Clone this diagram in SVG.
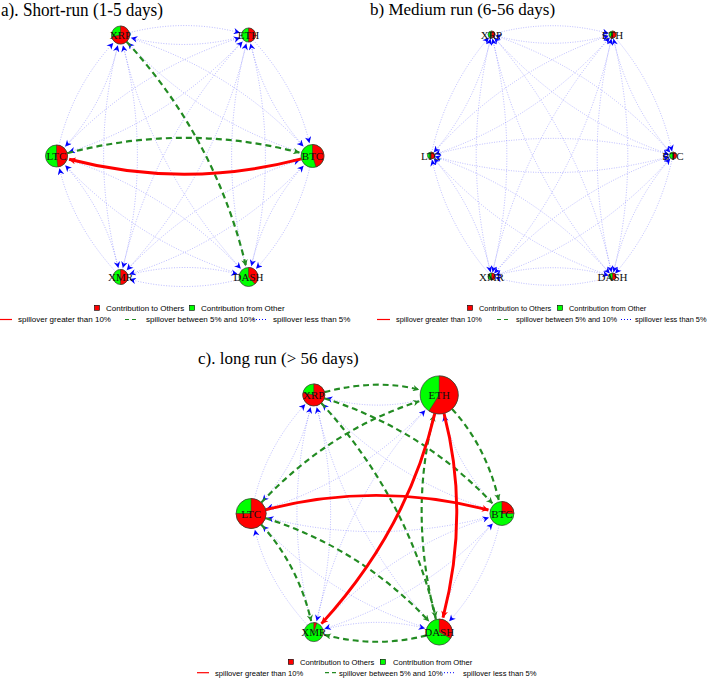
<svg xmlns="http://www.w3.org/2000/svg" width="708" height="679" viewBox="0 0 708 679">
<style>
.eb{fill:none;stroke:#6a6aff;stroke-opacity:.6;stroke-width:.8;stroke-dasharray:1 1.6;marker-end:url(#ab)}
.eg{fill:none;stroke:#228b22;stroke-width:2.2;stroke-dasharray:6 4;marker-end:url(#ag)}
.er{fill:none;stroke:#ff0000;stroke-width:3;marker-end:url(#ar)}
.gr{fill:#00ff00;stroke:#333;stroke-width:.7}
.rd{fill:#ff0000;stroke:#333;stroke-width:.5}
.lb{font-family:"Liberation Serif","Times New Roman",serif;font-size:11px;fill:#111;text-anchor:middle}
.tt{font-family:"Liberation Serif","Times New Roman",serif;fill:#000}
.lg{font-family:"Liberation Sans",Arial,sans-serif;font-size:8px;fill:#000}
.lgb{font-family:"Liberation Sans",Arial,sans-serif;font-size:7.4px;fill:#000}
.lgc{font-family:"Liberation Sans",Arial,sans-serif;font-size:7.6px;fill:#000}
.sq{stroke:#000;stroke-width:.6}
</style>
<defs>
<marker id="ab" viewBox="0 0 10 10" refX="9.5" refY="5" markerWidth="8" markerHeight="6.5" markerUnits="userSpaceOnUse" orient="auto"><path d="M0,0 L10,5 L0,10 L3,5 Z" fill="#0000ff"/></marker>
<marker id="ag" viewBox="0 0 10 10" refX="9.5" refY="5" markerWidth="8" markerHeight="6.5" markerUnits="userSpaceOnUse" orient="auto"><path d="M0,0 L10,5 L0,10 L3,5 Z" fill="#228b22"/></marker>
<marker id="ar" viewBox="0 0 10 10" refX="9.5" refY="5" markerWidth="8.5" markerHeight="7" markerUnits="userSpaceOnUse" orient="auto"><path d="M0,0 L10,5 L0,10 L3,5 Z" fill="#ff0000"/></marker>
</defs>
<rect width="708" height="679" fill="#fff"/>

<!-- Titles -->
<text class="tt" x="1" y="16.3" font-size="18" textLength="162" lengthAdjust="spacingAndGlyphs">a). Short-run (1-5 days)</text>
<text class="tt" x="370" y="15.2" font-size="17">b) Medium run (6-56 days)</text>
<text class="tt" x="198" y="364" font-size="17">c). long run (&gt; 56 days)</text>

<!-- Panel a connectors -->
<g id="connectors-a" transform="translate(184.5,156)">
<path class="eb" d="M-55.29,-123.27 Q0,-137.64 55.29,-123.27"/>
<path class="eb" d="M57.22,-119.24 Q0,-104.36 -53.35,-118.23"/>
<path class="eb" d="M-66.07,-112.24 Q-80.27,-52.18 -119.22,-9.59"/>
<path class="eb" d="M-125.47,-10.70 Q-111.73,-68.82 -71.43,-112.88"/>
<path class="eb" d="M-55.42,-118.27 Q47.73,-85.46 118.75,-9.84"/>
<path class="eb" d="M117.04,-3.48 Q16.27,-35.54 -56.46,-112.98"/>
<path class="eb" d="M-61.73,-112.29 Q-32.54,0 -61.61,111.80"/>
<path class="eb" d="M-65.89,113.74 Q-95.46,0 -66.77,-110.35"/>
<path class="eb" d="M57.59,113.99 Q-31.46,16.64 -61.47,-110.30"/>
<path class="eb" d="M59.20,-115.90 Q-16.27,-35.54 -115.61,-3.94"/>
<path class="eb" d="M-120.46,-8.02 Q-47.73,-85.46 55.42,-118.27"/>
<path class="eb" d="M68.73,-115.83 Q111.73,-68.82 124.89,-13.14"/>
<path class="eb" d="M120.24,-8.49 Q80.27,-52.18 66.07,-112.24"/>
<path class="eb" d="M62.39,-114.19 Q31.46,16.64 -57.59,113.99"/>
<path class="eb" d="M-62.27,113.70 Q-31.46,-16.64 57.92,-114.36"/>
<path class="eb" d="M65.76,-114.22 Q95.46,0 66.90,109.87"/>
<path class="eb" d="M61.61,111.80 Q32.54,0 61.73,-112.29"/>
<path class="eb" d="M-120.57,8.12 Q-80.27,52.18 -66.19,111.76"/>
<path class="eb" d="M-69.06,115.46 Q-111.73,68.82 -125.01,12.65"/>
<path class="eb" d="M-117.52,3.33 Q-16.27,35.54 56.12,112.62"/>
<path class="eb" d="M54.95,118.12 Q-47.73,85.46 -119.09,9.48"/>
<path class="eb" d="M120.12,8.38 Q47.73,85.46 -54.95,118.12"/>
<path class="eb" d="M-58.86,115.53 Q16.27,35.54 115.13,4.09"/>
<path class="eb" d="M125.35,11.19 Q111.73,68.82 71.76,112.51"/>
<path class="eb" d="M66.19,111.76 Q80.27,52.18 118.89,9.96"/>
<path class="eb" d="M-56.74,119.11 Q0,104.36 52.87,118.10"/>
<path class="eb" d="M54.80,123.39 Q0,137.64 -54.80,123.39"/>
<path class="eg" d="M-57.92,-114.36 Q31.46,-16.64 61.35,109.81"/>
<path class="eg" d="M-117.35,-2.77 Q0,-33.28 114.93,-3.40"/>
<path class="er" d="M116.87,2.90 Q0,33.28 -115.42,3.28"/>
</g>

<!-- Panel b connectors -->
<g id="connectors-b" transform="translate(552,155.5) scale(0.945,1)">
<path class="eb" d="M-61.10,-121.76 Q0,-137.64 59.64,-122.13"/>
<path class="eb" d="M61.10,-120.24 Q0,-104.36 -59.64,-119.87"/>
<path class="eb" d="M-64.69,-118.08 Q-80.27,-52.18 -124.96,-3.32"/>
<path class="eb" d="M-127.31,-2.92 Q-111.73,-68.82 -67.04,-117.68"/>
<path class="eb" d="M-61.14,-120.09 Q47.73,-85.46 124.92,-3.28"/>
<path class="eb" d="M125.14,-0.91 Q16.27,-35.54 -60.92,-117.72"/>
<path class="eb" d="M-63.24,-118.10 Q-32.54,0 -62.87,116.64"/>
<path class="eb" d="M-64.76,118.10 Q-95.46,0 -65.13,-116.64"/>
<path class="eb" d="M-61.97,-118.79 Q31.46,-16.64 62.96,116.62"/>
<path class="eb" d="M61.97,118.79 Q-31.46,16.64 -62.96,-116.62"/>
<path class="eb" d="M61.94,-118.81 Q-16.27,-35.54 -123.71,-1.36"/>
<path class="eb" d="M-125.94,-2.19 Q-47.73,-85.46 59.71,-119.64"/>
<path class="eb" d="M66.03,-118.79 Q111.73,-68.82 126.96,-4.38"/>
<path class="eb" d="M125.97,-2.21 Q80.27,-52.18 65.04,-116.62"/>
<path class="eb" d="M63.31,-118.08 Q31.46,16.64 -60.96,117.68"/>
<path class="eb" d="M-63.31,118.08 Q-31.46,-16.64 60.96,-117.68"/>
<path class="eb" d="M64.76,-118.10 Q95.46,0 65.13,116.64"/>
<path class="eb" d="M63.24,118.10 Q32.54,0 62.87,-116.64"/>
<path class="eb" d="M-125.10,-0.76 Q0,-33.28 123.64,-1.13"/>
<path class="eb" d="M125.10,0.76 Q0,33.28 -123.64,1.13"/>
<path class="eb" d="M-125.97,2.21 Q-80.27,52.18 -65.04,116.62"/>
<path class="eb" d="M-66.03,118.79 Q-111.73,68.82 -126.96,4.38"/>
<path class="eb" d="M-125.14,0.91 Q-16.27,35.54 60.92,117.72"/>
<path class="eb" d="M61.14,120.09 Q-47.73,85.46 -124.92,3.28"/>
<path class="eb" d="M125.94,2.19 Q47.73,85.46 -59.71,119.64"/>
<path class="eb" d="M-61.94,118.81 Q16.27,35.54 123.71,1.36"/>
<path class="eb" d="M127.31,2.92 Q111.73,68.82 67.04,117.68"/>
<path class="eb" d="M64.69,118.08 Q80.27,52.18 124.96,3.32"/>
<path class="eb" d="M-61.10,120.24 Q0,104.36 59.64,119.87"/>
<path class="eb" d="M61.10,121.76 Q0,137.64 -59.64,122.13"/>
</g>

<!-- Panel c connectors -->
<g id="connectors-c" transform="translate(376.5,513.5) scale(0.98)">
<path class="eb" d="M45.22,-116.11 Q0,-104.36 -51.22,-117.67"/>
<path class="eb" d="M-66.58,-110.10 Q-80.27,-52.18 -116.32,-12.77"/>
<path class="eb" d="M-124.48,-14.89 Q-111.73,-68.82 -72.91,-111.26"/>
<path class="eb" d="M116.37,-3.70 Q16.27,-35.54 -54.96,-111.38"/>
<path class="eb" d="M-61.18,-110.16 Q-32.54,0 -61.05,109.67"/>
<path class="eb" d="M-66.44,111.61 Q-95.46,0 -67.33,-108.22"/>
<path class="eb" d="M55.02,111.19 Q-31.46,16.64 -60.96,-108.15"/>
<path class="eb" d="M50.71,-106.86 Q-16.27,-35.54 -111.51,-5.24"/>
<path class="eb" d="M119.76,-9.00 Q80.27,-52.18 68.92,-100.17"/>
<path class="eb" d="M-61.77,111.56 Q-31.46,-16.64 49.55,-105.21"/>
<path class="eb" d="M116.19,3.07 Q0,33.28 -111.25,4.36"/>
<path class="eb" d="M-70.55,113.84 Q-111.73,68.82 -124.02,16.83"/>
<path class="eb" d="M51.33,116.97 Q-47.73,85.46 -116.15,12.61"/>
<path class="eb" d="M119.64,8.89 Q47.73,85.46 -52.85,117.45"/>
<path class="eb" d="M-57.36,113.93 Q16.27,35.54 114.47,4.30"/>
<path class="eb" d="M125.19,11.87 Q111.73,68.82 74.33,109.71"/>
<path class="eb" d="M67.06,108.06 Q80.27,52.18 118.41,10.48"/>
<path class="eb" d="M-54.61,118.56 Q0,104.36 49.19,117.14"/>
<path class="eg" d="M-53.16,-123.82 Q0,-137.64 43.28,-126.39"/>
<path class="eg" d="M-53.33,-117.61 Q47.73,-85.46 118.27,-10.35"/>
<path class="eg" d="M-56.44,-112.74 Q31.46,-16.64 60.48,106.11"/>
<path class="eg" d="M-117.52,-11.15 Q-47.73,-85.46 43.61,-114.52"/>
<path class="eg" d="M77.10,-106.68 Q111.73,-68.82 124.73,-13.82"/>
<path class="eg" d="M60.65,108.13 Q32.54,0 58.61,-100.28"/>
<path class="eg" d="M-117.67,11.29 Q-80.27,52.18 -66.69,109.62"/>
<path class="eg" d="M-113.42,4.64 Q-16.27,35.54 53.52,109.85"/>
<path class="eg" d="M51.13,124.35 Q0,137.64 -52.67,123.95"/>
<path class="er" d="M59.54,-102.12 Q31.46,16.64 -56.10,112.37"/>
<path class="er" d="M68.89,-102.22 Q95.46,0 67.86,106.19"/>
<path class="er" d="M-113.19,-3.86 Q0,-33.28 114.25,-3.58"/>
</g>

<!-- Panel a nodes -->
<g id="node-a-XRP"><circle class="gr" cx="120.5" cy="35" r="9"/><path class="rd" d="M120.5,35 L120.5,26 A9,9 0 1 1 111.66,36.69 Z"/><text class="lb" x="120.5" y="39">XRP</text></g>
<g id="node-a-ETH"><circle class="gr" cx="248.5" cy="35" r="7"/><path class="rd" d="M248.5,35 L248.5,28 A7,7 0 0 1 248.5,42 Z"/><text class="lb" x="248.5" y="39">ETH</text></g>
<g id="node-a-LTC"><circle class="gr" cx="56.5" cy="156" r="11"/><path class="rd" d="M56.5,156 L56.5,145 A11,11 0 0 1 57.88,166.91 Z"/><text class="lb" x="56.5" y="160">LTC</text></g>
<g id="node-a-BTC"><circle class="gr" cx="312.5" cy="156" r="11.5"/><path class="rd" d="M312.5,156 L312.5,144.5 A11.5,11.5 0 0 1 316.05,166.94 Z"/><text class="lb" x="312.5" y="160">BTC</text></g>
<g id="node-a-XMR"><circle class="gr" cx="120.5" cy="277" r="7.5"/><path class="rd" d="M120.5,277 L120.5,269.5 A7.5,7.5 0 0 1 120.5,284.5 Z"/><text class="lb" x="120.5" y="281">XMR</text></g>
<g id="node-a-DASH"><circle class="gr" cx="248.5" cy="277" r="9.5"/><path class="rd" d="M248.5,277 L248.5,267.5 A9.5,9.5 0 0 1 255,283.93 Z"/><text class="lb" x="248.5" y="281">DASH</text></g>

<!-- Panel b nodes -->
<g id="node-b-XRP"><circle class="gr" cx="491.5" cy="34.5" r="3.5"/><path class="rd" d="M491.5,34.5 L491.5,31 A3.5,3.5 0 0 1 491.5,38 Z"/><text class="lb" x="491.5" y="38.5">XRP</text></g>
<g id="node-b-ETH"><circle class="gr" cx="612.5" cy="34.5" r="3.5"/><path class="rd" d="M612.5,34.5 L612.5,31 A3.5,3.5 0 1 1 610.44,37.33 Z"/><text class="lb" x="612.5" y="38.5">ETH</text></g>
<g id="node-b-LTC"><circle class="gr" cx="431" cy="155.5" r="3.5"/><path class="rd" d="M431,155.5 L431,152 A3.5,3.5 0 0 1 431,159 Z"/><text class="lb" x="431" y="159.5">LTC</text></g>
<g id="node-b-BTC"><circle class="gr" cx="673" cy="155.5" r="3.5"/><path class="rd" d="M673,155.5 L673,152 A3.5,3.5 0 0 1 673,159 Z"/><text class="lb" x="673" y="159.5">BTC</text></g>
<g id="node-b-XMR"><circle class="gr" cx="491.5" cy="276.5" r="3.5"/><path class="rd" d="M491.5,276.5 L491.5,273 A3.5,3.5 0 0 1 491.5,280 Z"/><text class="lb" x="491.5" y="280.5">XMR</text></g>
<g id="node-b-DASH"><circle class="gr" cx="612.5" cy="276.5" r="3.5"/><path class="rd" d="M612.5,276.5 L612.5,273 A3.5,3.5 0 0 1 612.5,280 Z"/><text class="lb" x="612.5" y="280.5">DASH</text></g>

<!-- Panel c nodes -->
<g id="node-c-XRP"><circle class="gr" cx="313.8" cy="394.9" r="11"/><path class="rd" d="M313.8,394.9 L313.8,383.9 A11,11 0 1 1 302.99,392.84 Z"/><text class="lb" x="313.8" y="398.9">XRP</text></g>
<g id="node-c-ETH"><circle class="gr" cx="439.2" cy="394.9" r="19"/><path class="rd" d="M439.2,394.9 L439.2,375.9 A19,19 0 1 1 429.02,410.94 Z"/><text class="lb" x="439.2" y="398.9">ETH</text></g>
<g id="node-c-LTC"><circle class="gr" cx="251.1" cy="513.5" r="15"/><path class="rd" d="M251.1,513.5 L251.1,498.5 A15,15 0 1 1 236.1,513.5 Z"/><text class="lb" x="251.1" y="517.5">LTC</text></g>
<g id="node-c-BTC"><circle class="gr" cx="501.9" cy="513.5" r="12"/><path class="rd" d="M501.9,513.5 L501.9,501.5 A12,12 0 0 1 513.9,513.5 Z"/><text class="lb" x="501.9" y="517.5">BTC</text></g>
<g id="node-c-XMR"><circle class="gr" cx="313.8" cy="632.1" r="9.5"/><path class="rd" d="M313.8,632.1 L313.8,622.6 A9.5,9.5 0 0 1 316.74,623.07 Z"/><text class="lb" x="313.8" y="636.1">XMR</text></g>
<g id="node-c-DASH"><circle class="gr" cx="439.2" cy="632.1" r="13"/><path class="rd" d="M439.2,632.1 L439.2,619.1 A13,13 0 0 1 450.59,638.36 Z"/><text class="lb" x="439.2" y="636.1">DASH</text></g>

<!-- Legend a -->
<g id="legend-a">
<rect class="sq" x="94.5" y="305.3" width="5" height="5" fill="#ff0000"/>
<text class="lg" x="106" y="310.7">Contribution to Others</text>
<rect class="sq" x="189.5" y="305.3" width="5" height="5" fill="#00ff00"/>
<text class="lg" x="201" y="310.7">Contribution from Other</text>
<line x1="0" y1="319.5" x2="12" y2="319.5" stroke="#ff0000" stroke-width="1.2"/>
<text class="lg" x="18" y="322.3">spillover greater than 10%</text>
<line x1="125" y1="319.5" x2="138" y2="319.5" stroke="#228b22" stroke-width="1.2" stroke-dasharray="4 3"/>
<text class="lg" x="146" y="322.3">spillover between 5% and 10%</text>
<line x1="253" y1="319.5" x2="266" y2="319.5" stroke="#0000ff" stroke-width="1" stroke-dasharray="1 2"/>
<text class="lg" x="273" y="322.3">spillover less than 5%</text>
</g>
<!-- Legend b -->
<g id="legend-b">
<rect class="sq" x="467.5" y="305.3" width="5" height="5" fill="#ff0000"/>
<text class="lgb" x="479" y="310.7">Contribution to Others</text>
<rect class="sq" x="557.5" y="305.3" width="5" height="5" fill="#00ff00"/>
<text class="lgb" x="569" y="310.7">Contribution from Other</text>
<line x1="377" y1="319.5" x2="390" y2="319.5" stroke="#ff0000" stroke-width="1.2"/>
<text class="lgb" x="396" y="322.3">spillover greater than 10%</text>
<line x1="497" y1="319.5" x2="510" y2="319.5" stroke="#228b22" stroke-width="1.2" stroke-dasharray="4 3"/>
<text class="lgb" x="516" y="322.3">spillover between 5% and 10%</text>
<line x1="621" y1="319.5" x2="631" y2="319.5" stroke="#0000ff" stroke-width="1" stroke-dasharray="1 2"/>
<text class="lgb" x="635" y="322.3">spillover less than 5%</text>
</g>
<!-- Legend c -->
<g id="legend-c">
<rect class="sq" x="288.3" y="659.3" width="5" height="5" fill="#ff0000"/>
<text class="lgc" x="300" y="664.5">Contribution to Others</text>
<rect class="sq" x="380.3" y="659.3" width="5" height="5" fill="#00ff00"/>
<text class="lgc" x="393" y="664.5">Contribution from Other</text>
<line x1="197" y1="672.7" x2="209" y2="672.7" stroke="#ff0000" stroke-width="1.2"/>
<text class="lgc" x="215" y="675.5">spillover greater than 10%</text>
<line x1="325" y1="672.7" x2="336" y2="672.7" stroke="#228b22" stroke-width="1.2" stroke-dasharray="4 3"/>
<text class="lgc" x="339" y="675.5">spillover between 5% and 10%</text>
<line x1="444" y1="672.7" x2="454" y2="672.7" stroke="#0000ff" stroke-width="1" stroke-dasharray="1 2"/>
<text class="lgc" x="463" y="675.5">spillover less than 5%</text>
</g>
</svg>
